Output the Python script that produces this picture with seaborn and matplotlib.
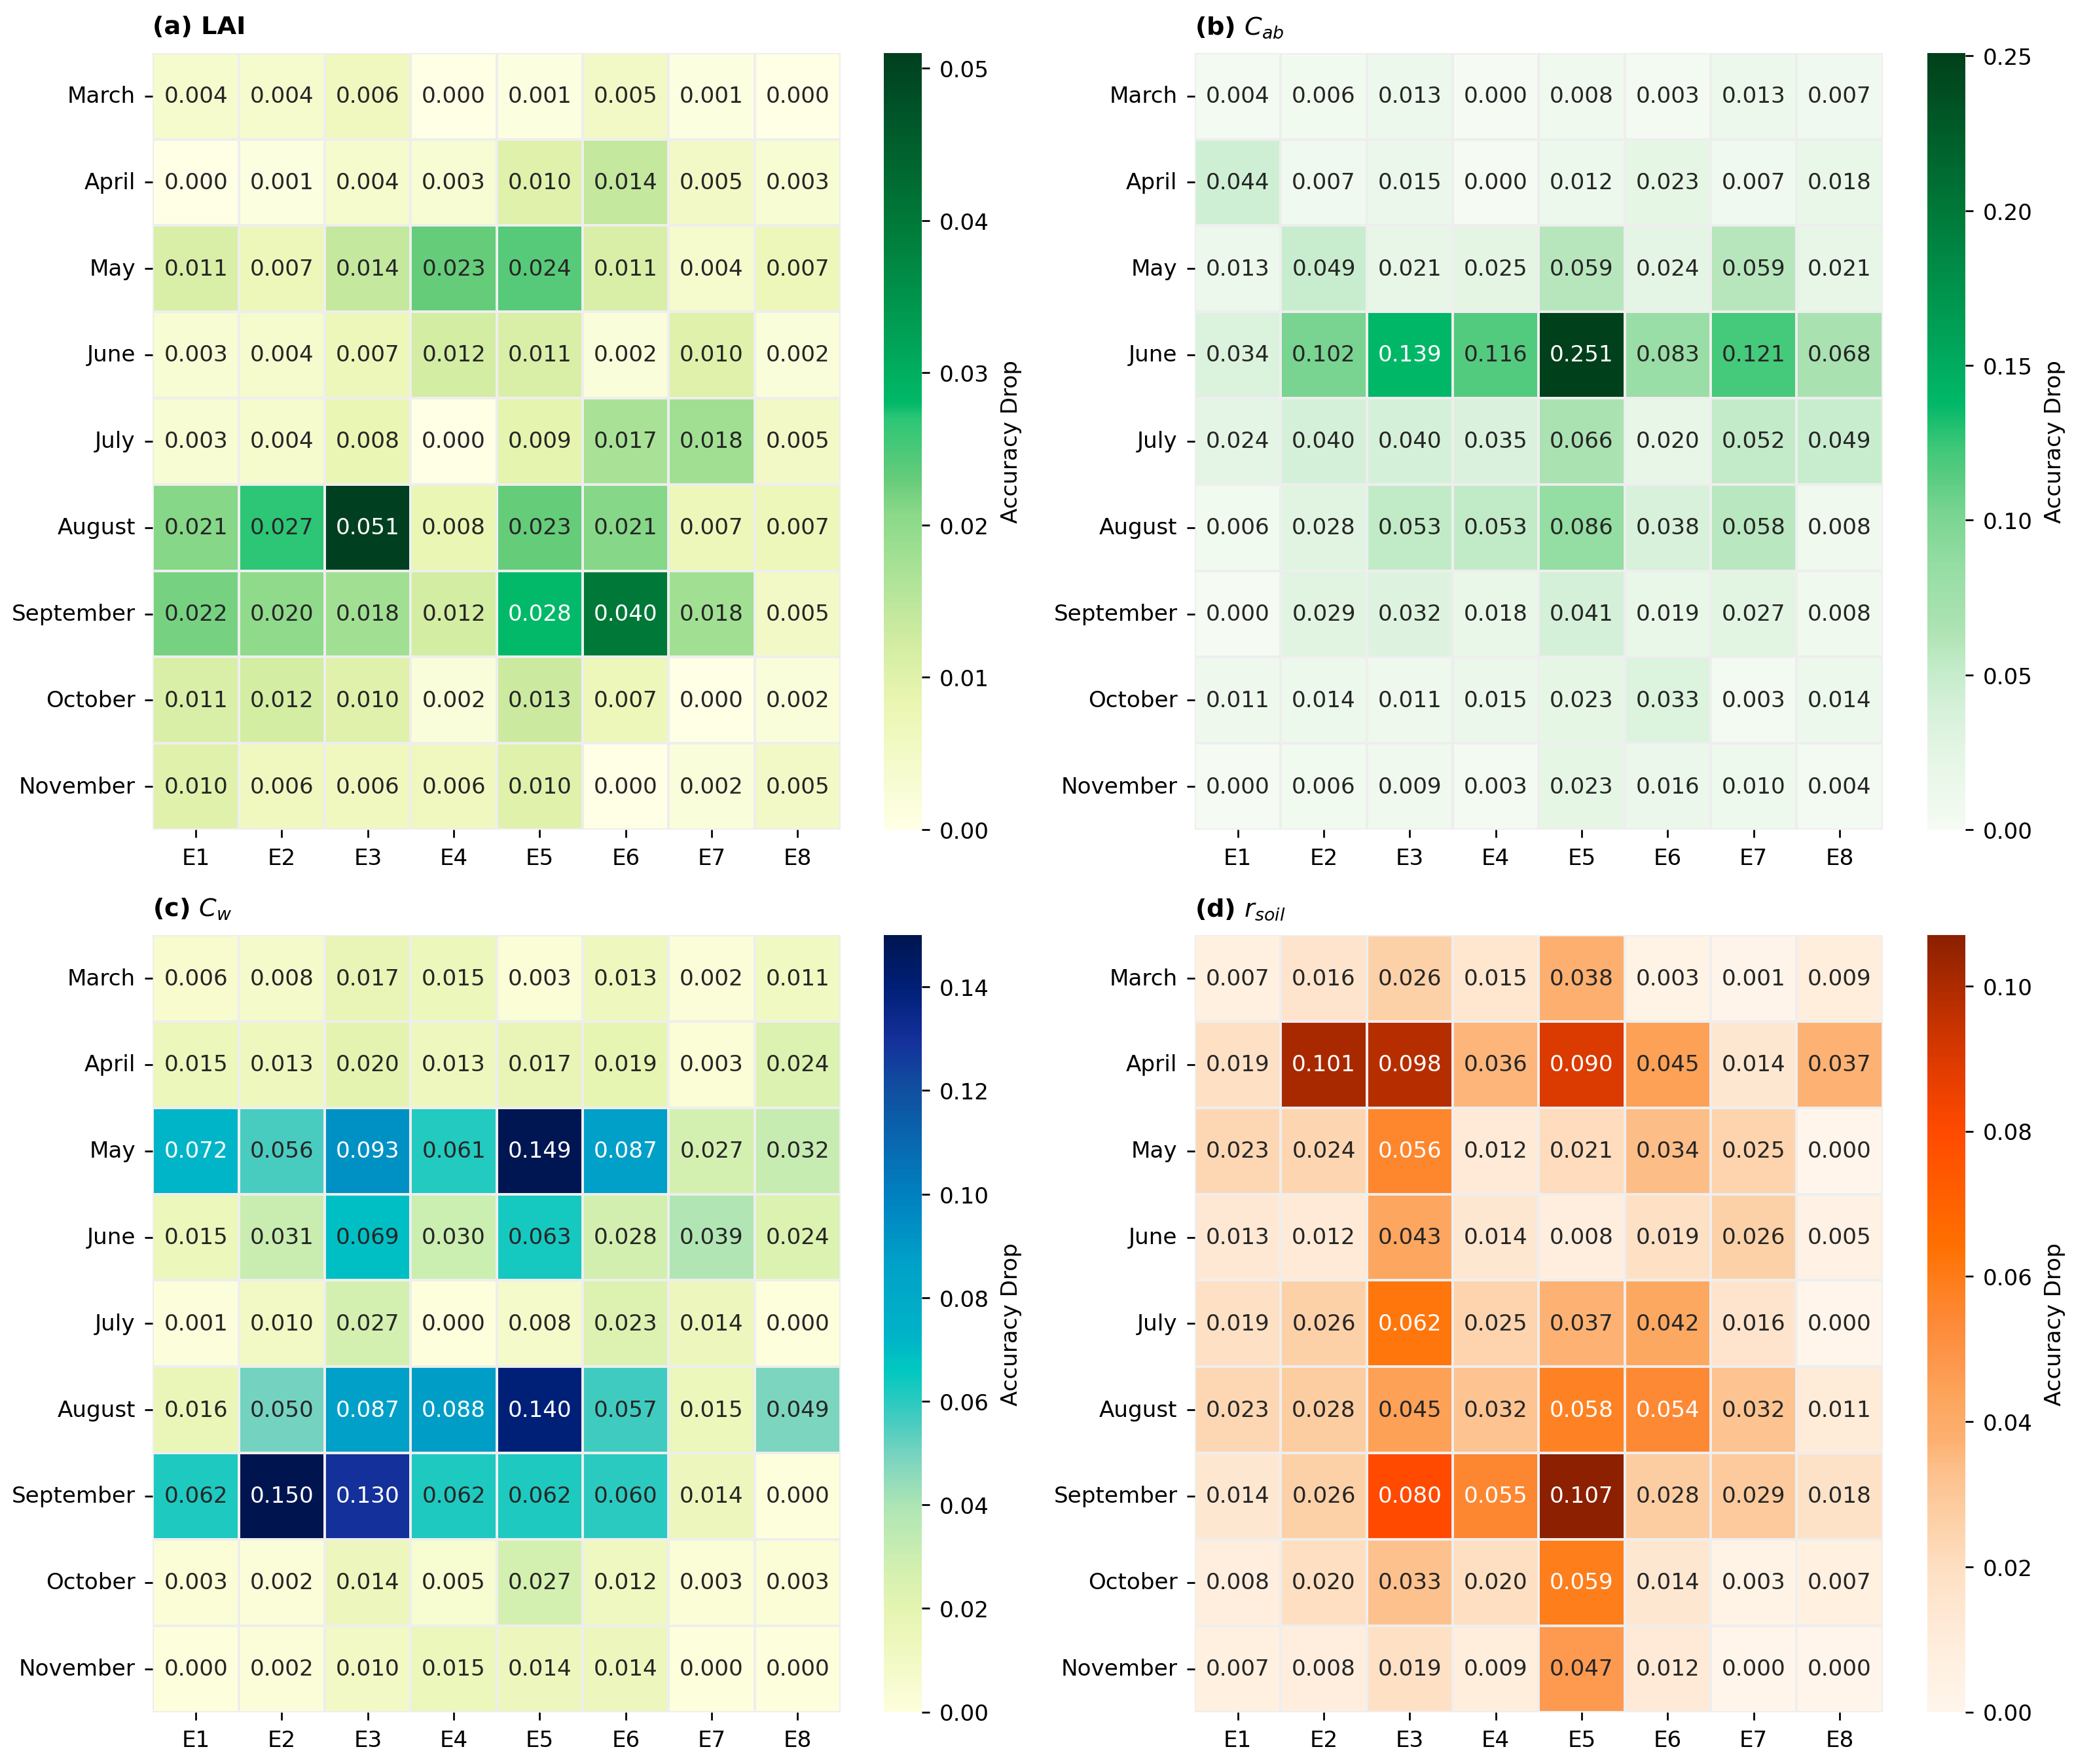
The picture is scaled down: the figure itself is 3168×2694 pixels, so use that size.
import numpy as np
import pandas as pd
import matplotlib
matplotlib.use("Agg")
import matplotlib.pyplot as plt
import seaborn as sns
from matplotlib.colors import LinearSegmentedColormap

# 行和列标签
months = ["March", "April", "May", "June", "July", "August", "September", "October", "November"]
experiments = ["E1", "E2", "E3", "E4", "E5", "E6", "E7", "E8"]

# (a) LAI
lai_drop = [
    [0.004, 0.004, 0.006, 0.000, 0.001, 0.005, 0.001, 0.000],
    [0.000, 0.001, 0.004, 0.003, 0.010, 0.014, 0.005, 0.003],
    [0.011, 0.007, 0.014, 0.023, 0.024, 0.011, 0.004, 0.007],
    [0.003, 0.004, 0.007, 0.012, 0.011, 0.002, 0.010, 0.002],
    [0.003, 0.004, 0.008, 0.000, 0.009, 0.017, 0.018, 0.005],
    [0.021, 0.027, 0.051, 0.008, 0.023, 0.021, 0.007, 0.007],
    [0.022, 0.020, 0.018, 0.012, 0.028, 0.040, 0.018, 0.005],
    [0.011, 0.012, 0.010, 0.002, 0.013, 0.007, 0.000, 0.002],
    [0.010, 0.006, 0.006, 0.006, 0.010, 0.000, 0.002, 0.005],
]

# (b) Cab
cab_drop = [
    [0.004, 0.006, 0.013, 0.000, 0.008, 0.003, 0.013, 0.007],
    [0.044, 0.007, 0.015, 0.000, 0.012, 0.023, 0.007, 0.018],
    [0.013, 0.049, 0.021, 0.025, 0.059, 0.024, 0.059, 0.021],
    [0.034, 0.102, 0.139, 0.116, 0.251, 0.083, 0.121, 0.068],
    [0.024, 0.040, 0.040, 0.035, 0.066, 0.020, 0.052, 0.049],
    [0.006, 0.028, 0.053, 0.053, 0.086, 0.038, 0.058, 0.008],
    [0.000, 0.029, 0.032, 0.018, 0.041, 0.019, 0.027, 0.008],
    [0.011, 0.014, 0.011, 0.015, 0.023, 0.033, 0.003, 0.014],
    [0.000, 0.006, 0.009, 0.003, 0.023, 0.016, 0.010, 0.004],
]

# (c) Cw
cw_drop = [
    [0.006, 0.008, 0.017, 0.015, 0.003, 0.013, 0.002, 0.011],
    [0.015, 0.013, 0.020, 0.013, 0.017, 0.019, 0.003, 0.024],
    [0.072, 0.056, 0.093, 0.061, 0.149, 0.087, 0.027, 0.032],
    [0.015, 0.031, 0.069, 0.030, 0.063, 0.028, 0.039, 0.024],
    [0.001, 0.010, 0.027, 0.000, 0.008, 0.023, 0.014, 0.000],
    [0.016, 0.050, 0.087, 0.088, 0.140, 0.057, 0.015, 0.049],
    [0.062, 0.150, 0.130, 0.062, 0.062, 0.060, 0.014, 0.000],
    [0.003, 0.002, 0.014, 0.005, 0.027, 0.012, 0.003, 0.003],
    [0.000, 0.002, 0.010, 0.015, 0.014, 0.014, 0.000, 0.000],
]

# (d) rsoil
rsoil_drop = [
    [0.007, 0.016, 0.026, 0.015, 0.038, 0.003, 0.001, 0.009],
    [0.019, 0.101, 0.098, 0.036, 0.090, 0.045, 0.014, 0.037],
    [0.023, 0.024, 0.056, 0.012, 0.021, 0.034, 0.025, 0.000],
    [0.013, 0.012, 0.043, 0.014, 0.008, 0.019, 0.026, 0.005],
    [0.019, 0.026, 0.062, 0.025, 0.037, 0.042, 0.016, 0.000],
    [0.023, 0.028, 0.045, 0.032, 0.058, 0.054, 0.032, 0.011],
    [0.014, 0.026, 0.080, 0.055, 0.107, 0.028, 0.029, 0.018],
    [0.008, 0.020, 0.033, 0.020, 0.059, 0.014, 0.003, 0.007],
    [0.007, 0.008, 0.019, 0.009, 0.047, 0.012, 0.000, 0.000],
]

titles = ["(a) LAI", r"(b) $C_{ab}$", r"(c) $C_w$", r"(d) $r_{soil}$"]

# 自定义色带
cmap_lai = LinearSegmentedColormap.from_list("lai", [
    (0.0, "#ffffe6"), (0.16, "#eaf6b2"), (0.24, "#d2eca2"), (0.35, "#a2e094"),
    (0.41, "#88d888"), (0.45, "#66cc7a"), (0.53, "#2cc676"), (0.55, "#00b868"),
    (0.78, "#007a38"), (1.0, "#004020")])
cmap_cab = LinearSegmentedColormap.from_list("cab", [
    (0.0, "#f5fbf3"), (0.1, "#e4f5e4"), (0.16, "#d4f0d8"), (0.21, "#c2ebc8"),
    (0.26, "#ace2b2"), (0.33, "#98dea6"), (0.41, "#78d490"), (0.46, "#55cb80"),
    (0.49, "#40c878"), (0.55, "#00b868"), (0.8, "#007838"), (1.0, "#00401a")])
cmap_cw = LinearSegmentedColormap.from_list("cw", [
    (0.0, "#fdfedc"), (0.067, "#f2f9c4"), (0.133, "#e4f4b0"), (0.18, "#d4f0b0"),
    (0.26, "#b0e6b4"), (0.33, "#78d4c0"), (0.38, "#40cbc0"), (0.44, "#00c8c0"),
    (0.48, "#00b4c8"), (0.58, "#00a0c8"), (0.667, "#0080c0"), (0.8, "#1050a0"),
    (0.867, "#14309a"), (0.933, "#002078"), (1.0, "#001550")])
cmap_rsoil = LinearSegmentedColormap.from_list("rsoil", [
    (0.0, "#fff5eb"), (0.08, "#ffeedd"), (0.12, "#fee8d4"), (0.18, "#fee0c4"),
    (0.23, "#fdd4ae"), (0.31, "#fdc08c"), (0.35, "#fdb070"), (0.41, "#fda45b"),
    (0.44, "#fd9a50"), (0.5, "#fd8a38"), (0.54, "#fe8224"), (0.6, "#ff7000"),
    (0.75, "#ff4a00"), (0.84, "#dd3a00"), (0.93, "#b02c00"), (1.0, "#8c2000")])
cmaps = [cmap_lai, cmap_cab, cmap_cw, cmap_rsoil]

plt.rcParams["font.family"] = ["DejaVu Sans"]
plt.rcParams["font.size"] = 8.2
plt.rcParams["xtick.major.size"] = 2.9
plt.rcParams["ytick.major.size"] = 2.9
plt.rcParams["xtick.major.width"] = 0.66
plt.rcParams["ytick.major.width"] = 0.66

fig = plt.figure(figsize=(10.56, 8.983), dpi=300)

# 画布位置 (left, bottom)
hm_w, hm_h, cb_w = 0.3316, 0.4402, 0.0185
positions = [
    (0.0737, 0.5295, 0.426),
    (0.5761, 0.5295, 0.9292),
    (0.0737, 0.0295, 0.426),
    (0.5761, 0.0295, 0.9292),
]

for vals, title, cmap, (l, b, cl) in zip(
        [lai_drop, cab_drop, cw_drop, rsoil_drop], titles, cmaps, positions):
    df = pd.DataFrame(vals, index=months, columns=experiments)
    ax = fig.add_axes([l, b, hm_w, hm_h])
    cax = fig.add_axes([cl, b, cb_w, hm_h])
    sns.heatmap(df, ax=ax, cbar_ax=cax, cmap=cmap, vmin=0,
                annot=True, fmt=".3f", annot_kws={"fontsize": 8.2},
                linewidths=0.5, linecolor="#eeeeee",
                cbar_kws={"label": "Accuracy Drop"})
    ax.set_title(title, loc="left", fontweight="bold", fontsize=9.2, pad=7)
    ax.set_xlabel("")
    ax.set_ylabel("")
    ax.set_yticklabels(ax.get_yticklabels(), rotation=0)
    ax.set_xticklabels(ax.get_xticklabels(), rotation=0)
    cax.tick_params(labelsize=8.2)
    cax.yaxis.label.set_size(8.2)
    cax.yaxis.labelpad = 4

fig.savefig("out.png", dpi=300)
